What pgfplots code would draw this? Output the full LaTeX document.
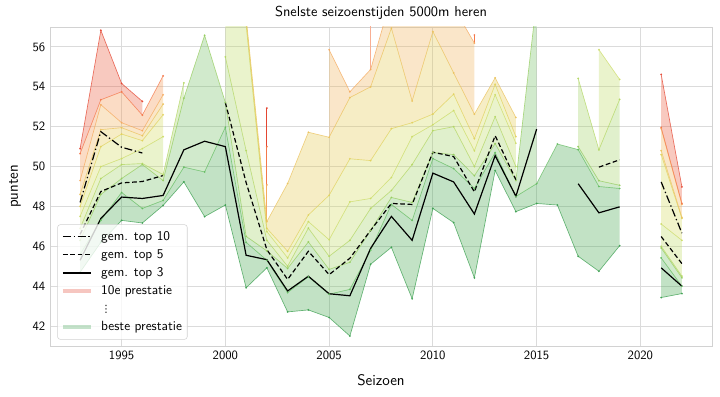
\documentclass[border=0pt]{standalone}
\usepackage{fontspec}
\usepackage{pgfplots}
\usepackage{pgfplotstable}
\pgfplotsset{compat=1.18}
\usepgfplotslibrary{fillbetween}
\usetikzlibrary{calc}
\newfontfamily\dejavu{DejaVu Sans}

% line colours (rank 1 = best ... rank 10)
\definecolor{c1}{RGB}{60,160,80}
\definecolor{c2}{RGB}{102,189,99}
\definecolor{c3}{RGB}{150,205,95}
\definecolor{c4}{RGB}{180,215,100}
\definecolor{c5}{RGB}{205,220,105}
\definecolor{c6}{RGB}{225,210,95}
\definecolor{c7}{RGB}{235,195,95}
\definecolor{c8}{RGB}{245,170,95}
\definecolor{c9}{RGB}{244,120,75}
\definecolor{c10}{RGB}{228,70,50}
% band colours
\definecolor{b1}{RGB}{70,168,80}
\definecolor{b2}{RGB}{115,192,100}
\definecolor{b3}{RGB}{160,208,100}
\definecolor{b4}{RGB}{190,218,100}
\definecolor{b5}{RGB}{212,220,95}
\definecolor{b6}{RGB}{228,200,80}
\definecolor{b7}{RGB}{240,180,90}
\definecolor{b8}{RGB}{244,150,80}
\definecolor{b9}{RGB}{235,90,60}

\pgfplotstableread{
year r1 r2 r3 r4 r5 r6 r7 r8 r9 r10 a3 a5 a10
1993 44.7 45.6 46.3 46.9 47.5 48.0 48.6 49.3 50.65 50.9 45.3 46.6 48.2
1994 46.2 47.3 48.6 49.4 50.0 51.0 51.85 53.1 53.35 56.83 47.4 48.75 51.75
1995 47.3 48.7 49.4 50.1 50.4 51.63 51.95 52.2 53.75 54.17 48.47 49.18 50.97
1996 47.17 47.9 50.1 50.15 50.9 51.3 51.55 51.8 52.58 53.27 48.4 49.25 50.68
1997 48.05 48.3 49.3 49.6 51.5 52.6 53.13 53.6 54.55 nan 48.55 49.55 nan
1998 49.23 49.97 53.43 54.2 nan nan nan nan nan nan 50.84 nan nan
1999 47.49 49.73 56.58 nan nan nan nan nan nan nan 51.27 nan nan
2000 48.07 51.97 53.21 55.5 57.6 59.0 60.0 nan nan nan 51.0 53.21 nan
2001 43.92 46.2 46.5 50.8 57.1 57.3 57.5 nan nan nan 45.55 49.2 nan
2002 44.92 45.3 45.77 46.3 46.74 46.9 47.24 49.08 51.0 52.93 45.33 45.83 nan
2003 42.71 43.68 44.89 45.0 45.42 45.75 49.15 nan nan nan 43.76 44.34 nan
2004 42.81 44.47 46.22 46.91 47.24 47.57 51.72 nan nan nan 44.5 45.75 nan
2005 42.43 43.6 44.84 45.5 46.33 48.56 51.47 55.86 nan nan 43.62 44.58 nan
2006 41.5 43.84 45.2 46.3 48.23 50.39 53.46 53.75 nan nan 43.52 45.4 nan
2007 45.1 45.8 46.8 47.9 48.4 50.3 54.0 54.87 58.0 nan 45.9 46.8 nan
2008 45.95 48.1 48.45 48.8 49.45 51.9 56.94 58.5 nan nan 47.5 48.15 nan
2009 43.37 47.3 48.2 50.1 51.5 52.2 53.29 58.0 nan nan 46.3 48.1 nan
2010 47.9 50.4 50.7 51.8 52.1 52.63 56.77 60.0 nan nan 49.67 50.72 nan
2011 47.19 49.9 50.6 52.0 52.81 53.63 54.7 58.0 nan nan 49.23 50.5 nan
2012 44.42 48.9 49.54 50.0 50.79 51.4 52.63 56.19 56.6 nan 47.62 48.73 nan
2013 49.8 50.7 51.15 52.5 53.6 54.12 54.45 nan nan nan 50.55 51.55 nan
2014 47.74 48.5 49.3 50.0 51.17 51.5 52.46 nan nan nan 48.51 49.34 nan
2015 48.15 49.14 58.35 nan nan nan nan nan nan nan 51.88 nan nan
2016 48.07 51.13 nan nan nan nan nan nan nan nan nan nan nan
2017 45.5 50.85 51.0 54.42 nan nan nan nan nan nan 49.14 nan nan
2018 44.75 49.0 49.29 50.84 55.86 nan nan nan nan nan 47.68 49.97 nan
2019 46.03 48.9 49.06 53.37 54.37 nan nan nan nan nan 47.98 50.34 nan
2020 nan nan nan nan nan nan nan nan nan nan nan nan nan
2021 43.43 45.42 45.92 46.0 47.12 50.6 50.8 51.9 51.96 54.62 44.92 46.49 49.23
2022 43.63 44.0 44.42 44.5 46.3 47.4 47.45 48.1 48.15 48.98 44.0 45.13 46.66
}\data

% band: name, lower col, upper col, from, to, colour
\newcommand{\band}[6]{%
\addplot[draw=none, forget plot, name path=#1l, unbounded coords=discard, restrict x to domain=#4:#5] table[x=year,y=#2]{\data};
\addplot[draw=none, forget plot, name path=#1u, unbounded coords=discard, restrict x to domain=#4:#5] table[x=year,y=#3]{\data};
\addplot[fill=#6, fill opacity=0.33, draw=none, forget plot] fill between[of=#1u and #1l];
}
\newcommand{\rank}[2]{%
\addplot[#2, draw opacity=0.75, line width=0.5pt, mark=*, mark size=0.45pt, unbounded coords=jump, forget plot] table[x=year,y=#1]{\data};
}

\begin{document}
\sffamily
\begin{tikzpicture}
\begin{axis}[
 scale only axis, width=496.5pt, height=239.25pt,
 xmin=1991.55, xmax=2023.45, ymin=41, ymax=57,
 xtick={1995,2000,...,2020}, ytick={42,44,...,56},
 grid=major, major grid style={gray!28, line width=0.7pt},
 axis line style={gray!35, line width=0.7pt},
 major tick length=0pt,
 tick label style={font=\sffamily\fontsize{9.5}{11}\selectfont},
 /pgf/number format/assume math mode=true,
 /pgf/number format/1000 sep={},
 xlabel={Seizoen}, ylabel={punten},
 title={Snelste seizoenstijden 5000m heren},
 label style={font=\sffamily\fontsize{11.5}{13}\selectfont},
 title style={font=\sffamily\fontsize{10.8}{12}\selectfont, yshift=-4pt},
 xlabel style={yshift=-4pt}, ylabel style={yshift=2pt},
 legend style={at={(0.011,0.02)}, anchor=south west, draw=gray!35, rounded corners=2pt,
   fill=white, fill opacity=0.8, text opacity=1, font=\sffamily\fontsize{10}{12}\selectfont,
   cells={anchor=west}, row sep=0.6pt, inner sep=2.5pt,
   nodes={inner sep=1.5pt, text height=7.5pt, text depth=2.5pt}},
]
% bands
\band{Aa}{r1}{r2}{1993}{2019}{b1}
\band{Ab}{r1}{r2}{2021}{2022}{b1}
\band{Ba}{r2}{r3}{1993}{2015}{b2}
\band{Bb}{r2}{r3}{2017}{2019}{b2}
\band{Bc}{r2}{r3}{2021}{2022}{b2}
\band{Ca}{r3}{r4}{1993}{1998}{b3}
\band{Cb}{r3}{r4}{2000}{2014}{b3}
\band{Cc}{r3}{r4}{2017}{2019}{b3}
\band{Cd}{r3}{r4}{2021}{2022}{b3}
\band{Da}{r4}{r5}{1993}{1997}{b4}
\band{Db}{r4}{r5}{2000}{2014}{b4}
\band{Dc}{r4}{r5}{2018}{2019}{b4}
\band{Dd}{r4}{r5}{2021}{2022}{b4}
\band{Ea}{r5}{r6}{1993}{1997}{b5}
\band{Eb}{r5}{r6}{2000}{2014}{b5}
\band{Ec}{r5}{r6}{2021}{2022}{b5}
\band{Fa}{r6}{r7}{1993}{1997}{b6}
\band{Fb}{r6}{r7}{2000}{2014}{b6}
\band{Fc}{r6}{r7}{2021}{2022}{b6}
\band{Ga}{r7}{r8}{1993}{1997}{b7}
\band{Gb}{r7}{r8}{2005}{2012}{b7}
\band{Gc}{r7}{r8}{2021}{2022}{b7}
\band{Ha}{r8}{r9}{1993}{1997}{b8}
\band{Hb}{r8}{r9}{2021}{2022}{b8}
\band{Ia}{r9}{r10}{1993}{1996}{b9}
\band{Ib}{r9}{r10}{2021}{2022}{b9}
% single-season bands
\addplot[c8, line width=0.6pt, forget plot] coordinates {(2002,47.24) (2002,49.08)};
\addplot[c9, line width=0.6pt, forget plot] coordinates {(2002,49.08) (2002,51.0)};
\addplot[c10, line width=0.6pt, forget plot] coordinates {(2002,51.0) (2002,52.93)};
\addplot[c9!60, line width=0.6pt, forget plot] coordinates {(2007,54.87) (2007,58.0)};
\addplot[c9, line width=0.6pt, forget plot] coordinates {(2012,56.19) (2012,56.6)};
% rank lines
\rank{r1}{c1}
\rank{r2}{c2}
\rank{r3}{c3}
\rank{r4}{c4}
\rank{r5}{c5}
\rank{r6}{c6}
\rank{r7}{c7}
\rank{r8}{c8}
\rank{r9}{c9}
\rank{r10}{c10}
% averages
\addplot[black, line width=0.9pt, dash pattern=on 6pt off 2pt on 1pt off 2pt, unbounded coords=jump, forget plot] table[x=year,y=a10]{\data};
\addplot[black, line width=0.9pt, dash pattern=on 3.5pt off 2pt, unbounded coords=jump, forget plot] table[x=year,y=a5]{\data};
\addplot[black, line width=0.9pt, unbounded coords=jump, forget plot] table[x=year,y=a3]{\data};
% legend
\addlegendimage{legend image code/.code={\draw[black, line width=0.9pt, dash pattern=on 6pt off 2pt on 1pt off 2pt] (0cm,0cm) -- (0.75cm,0cm); \path (0.95cm,0cm);}}
\addlegendentry{gem. top 10}
\addlegendimage{legend image code/.code={\draw[black, line width=0.9pt, dash pattern=on 3.5pt off 2pt] (0cm,0cm) -- (0.75cm,0cm); \path (0.95cm,0cm);}}
\addlegendentry{gem. top 5}
\addlegendimage{legend image code/.code={\draw[black, line width=0.9pt] (0cm,0cm) -- (0.75cm,0cm); \path (0.95cm,0cm);}}
\addlegendentry{gem. top 3}
\addlegendimage{legend image code/.code={\draw[c10, draw opacity=0.3, line width=3pt] (0cm,0cm) -- (0.75cm,0cm); \path (0.95cm,0cm);}}
\addlegendentry{10e prestatie}
\addlegendimage{legend image code/.code={}}
\addlegendentry{{\dejavu\fontsize{7.5}{8}\selectfont ⋮}}
\addlegendimage{legend image code/.code={\draw[c1, draw opacity=0.3, line width=3pt] (0cm,0cm) -- (0.75cm,0cm); \path (0.95cm,0cm);}}
\addlegendentry{beste prestatie}
\end{axis}
\pgfresetboundingbox
\path ($(current axis.south west)+(-37.5pt,-37.5pt)$) rectangle ($(current axis.north east)+(6pt,20.25pt)$);
\end{tikzpicture}
\end{document}
